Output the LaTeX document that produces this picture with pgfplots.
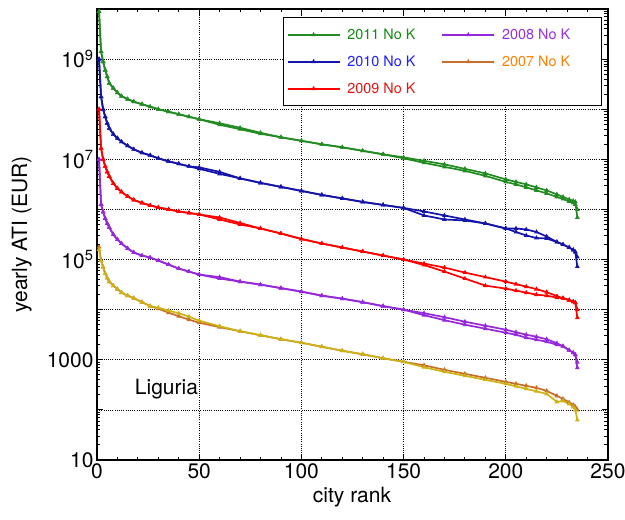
\documentclass[border=0pt]{standalone}
\usepackage{pgfplots}
\usepackage{pgfplotstable}
\pgfplotsset{compat=1.18}
\usepackage{fontspec}
\setmainfont{TeX Gyre Heros}

\definecolor{cgreen}{RGB}{34,139,34}
\definecolor{cblue}{RGB}{20,20,170}
\definecolor{cred}{RGB}{255,0,0}
\definecolor{cpurple}{RGB}{150,40,220}
\definecolor{corange}{RGB}{200,110,40}
\definecolor{cyellow}{RGB}{205,180,20}
\definecolor{tgreen}{RGB}{20,140,20}
\definecolor{tblue}{RGB}{30,30,255}
\definecolor{tred}{RGB}{230,20,20}
\definecolor{tpurple}{RGB}{150,50,230}
\definecolor{torange}{RGB}{255,128,0}

% 2011
\pgfplotstableread{
r a b
1 8.913e9 8.913e9
2 1.413e9 1.413e9
3 8.913e8 8.913e8
4 6.026e8 6.026e8
5 4.467e8 4.467e8
6 3.311e8 3.311e8
8 2.630e8 2.630e8
10 2.138e8 2.138e8
12 1.820e8 1.820e8
15 1.585e8 1.585e8
18 1.413e8 1.413e8
22 1.259e8 1.259e8
26 1.122e8 1.122e8
30 1.0e8 1.0e8
35 8.913e7 8.913e7
40 7.943e7 7.943e7
45 7.079e7 7.079e7
50 6.310e7 6.310e7
60 4.898e7 5.248e7
70 3.981e7 4.266e7
80 3.236e7 3.388e7
90 2.754e7 2.754e7
100 2.344e7 2.344e7
110 1.995e7 1.995e7
120 1.738e7 1.738e7
130 1.479e7 1.479e7
140 1.259e7 1.259e7
150 1.096e7 1.047e7
160 9.333e6 8.511e6
170 7.943e6 7.079e6
180 6.457e6 5.888e6
190 5.248e6 4.677e6
200 3.981e6 3.548e6
205 3.548e6 3.162e6
210 3.162e6 2.754e6
215 2.754e6 2.399e6
220 2.399e6 2.089e6
225 1.995e6 1.778e6
228 1.778e6 1.622e6
231 1.585e6 1.445e6
233 1.479e6 1.349e6
234 1.413e6 1.259e6
235 6.918e5 1.0e6
}\tabG

% 2010
\pgfplotstableread{
r a b
1 1.0e9 1.0e9
2 1.778e8 1.778e8
3 1.0e8 1.0e8
4 7.079e7 7.079e7
5 5.248e7 5.248e7
6 4.169e7 4.169e7
8 3.162e7 3.162e7
10 2.630e7 2.630e7
12 2.239e7 2.239e7
15 1.862e7 1.862e7
18 1.585e7 1.585e7
22 1.349e7 1.349e7
26 1.202e7 1.202e7
30 1.047e7 1.047e7
35 9.120e6 9.120e6
40 8.128e6 8.128e6
45 7.244e6 7.244e6
50 6.457e6 6.918e6
60 5.129e6 5.623e6
70 4.169e6 4.169e6
80 3.388e6 3.388e6
90 2.818e6 2.818e6
100 2.344e6 2.344e6
110 1.950e6 1.950e6
120 1.660e6 1.660e6
130 1.413e6 1.413e6
140 1.230e6 1.230e6
150 1.072e6 1.072e6
160 9.120e5 7.586e5
170 7.586e5 6.310e5
180 6.310e5 6.026e5
190 5.248e5 5.248e5
200 4.169e5 4.169e5
205 3.548e5 4.169e5
210 3.020e5 3.981e5
215 2.692e5 3.548e5
220 2.630e5 2.884e5
225 2.239e5 2.239e5
228 1.995e5 1.995e5
231 1.738e5 1.738e5
233 1.549e5 1.549e5
234 1.413e5 1.413e5
235 7.244e4 1.122e5
}\tabB

% 2009
\pgfplotstableread{
r a b
1 1.0e8 1.0e8
2 1.660e7 1.660e7
3 1.0e7 1.0e7
4 7.244e6 7.244e6
5 5.623e6 5.623e6
6 4.571e6 4.571e6
8 3.311e6 3.311e6
10 2.630e6 2.630e6
12 2.239e6 2.239e6
15 1.820e6 1.820e6
18 1.549e6 1.549e6
22 1.349e6 1.349e6
26 1.202e6 1.202e6
30 1.096e6 1.096e6
35 1.0e6 1.0e6
40 9.120e5 9.120e5
45 8.511e5 8.511e5
50 7.943e5 7.943e5
60 6.310e5 6.918e5
70 5.012e5 5.370e5
80 4.169e5 4.169e5
90 3.311e5 3.311e5
100 2.570e5 2.570e5
110 2.089e5 2.089e5
120 1.738e5 1.738e5
130 1.445e5 1.445e5
140 1.202e5 1.202e5
150 1.0e5 1.0e5
160 8.318e4 7.762e4
170 6.918e4 5.754e4
180 5.495e4 4.169e4
190 4.467e4 3.020e4
200 3.631e4 2.630e4
205 3.236e4 2.399e4
210 2.884e4 2.188e4
215 2.570e4 1.995e4
220 2.239e4 1.905e4
225 1.862e4 1.738e4
228 1.698e4 1.698e4
231 1.549e4 1.549e4
233 1.445e4 1.445e4
234 1.380e4 1.380e4
235 6.918e3 1.0e4
}\tabR

% 2008
\pgfplotstableread{
r a b
1 1.0e7 1.0e7
2 1.259e6 1.259e6
3 8.913e5 8.913e5
4 6.607e5 6.607e5
5 5.248e5 5.248e5
6 4.365e5 4.365e5
8 3.162e5 3.162e5
10 2.512e5 2.512e5
12 2.089e5 2.089e5
15 1.660e5 1.660e5
18 1.380e5 1.380e5
22 1.202e5 1.202e5
26 1.096e5 1.096e5
30 9.550e4 9.550e4
35 7.943e4 7.943e4
40 6.607e4 6.607e4
45 5.754e4 5.754e4
50 5.012e4 5.012e4
60 4.169e4 4.467e4
70 3.631e4 3.631e4
80 3.162e4 3.162e4
90 2.692e4 2.692e4
100 2.291e4 2.291e4
110 1.905e4 1.905e4
120 1.660e4 1.660e4
130 1.413e4 1.413e4
140 1.175e4 1.175e4
150 1.0e4 1.0e4
160 8.511e3 7.762e3
170 7.079e3 6.166e3
180 5.754e3 5.012e3
190 4.786e3 4.169e3
200 3.981e3 3.467e3
205 3.548e3 3.162e3
210 3.162e3 2.754e3
215 2.884e3 2.512e3
220 2.570e3 2.291e3
225 2.138e3 1.995e3
228 1.862e3 1.862e3
231 1.549e3 1.549e3
233 1.380e3 1.380e3
234 1.259e3 1.259e3
235 6.918e2 8.913e2
}\tabP

% 2007
\pgfplotstableread{
r a b
1 1.778e5 1.585e5
2 9.550e4 9.550e4
3 7.079e4 7.079e4
4 5.248e4 5.248e4
5 4.266e4 4.266e4
6 3.631e4 3.631e4
8 3.020e4 3.020e4
10 2.570e4 2.570e4
12 2.188e4 2.188e4
15 1.905e4 1.905e4
18 1.698e4 1.698e4
22 1.413e4 1.413e4
26 1.175e4 1.175e4
30 1.047e4 1.096e4
35 8.710e3 9.550e3
40 7.413e3 8.511e3
45 6.310e3 7.244e3
50 5.495e3 6.026e3
60 4.467e3 4.677e3
70 3.715e3 3.715e3
80 3.090e3 3.090e3
90 2.570e3 2.570e3
100 2.188e3 2.188e3
110 1.820e3 1.820e3
120 1.514e3 1.514e3
130 1.288e3 1.288e3
140 1.072e3 1.072e3
150 9.120e2 9.120e2
160 7.762e2 7.079e2
170 6.310e2 5.754e2
180 5.248e2 4.786e2
190 4.365e2 3.981e2
200 3.631e2 3.311e2
205 3.311e2 2.951e2
210 3.020e2 2.630e2
215 2.754e2 2.344e2
220 2.399e2 2.089e2
225 1.905e2 1.445e2
228 1.660e2 1.514e2
231 1.413e2 1.318e2
233 1.259e2 1.148e2
234 1.148e2 1.0e2
235 1.0e2 63.10
}\tabO

\begin{document}
\begin{tikzpicture}
\begin{axis}[
  at={(0pt,0pt)}, anchor=south west,
  scale only axis,
  width=511pt, height=451pt,
  xmin=0, xmax=250,
  ymode=log, ymin=10, ymax=1e10,
  xtick={0,50,100,150,200,250},
  minor x tick num=4,
  ytick={1e1,1e2,1e3,1e4,1e5,1e6,1e7,1e8,1e9,1e10},
  yticklabels={10,,1000,,10\textsuperscript{5},,10\textsuperscript{7},,10\textsuperscript{9},},
  minor ytick={20,30,40,50,60,70,80,90,200,300,400,500,600,700,800,900,2000,3000,4000,5000,6000,7000,8000,9000,2e4,3e4,4e4,5e4,6e4,7e4,8e4,9e4,2e5,3e5,4e5,5e5,6e5,7e5,8e5,9e5,2e6,3e6,4e6,5e6,6e6,7e6,8e6,9e6,2e7,3e7,4e7,5e7,6e7,7e7,8e7,9e7,2e8,3e8,4e8,5e8,6e8,7e8,8e8,9e8,2e9,3e9,4e9,5e9,6e9,7e9,8e9,9e9},
  /pgf/number format/assume math mode=true,
  tick label style={font=\fontsize{21}{24}\selectfont},
  label style={font=\fontsize{21}{24}\selectfont},
  xlabel={city rank},
  ylabel={yearly ATI (EUR)},
  xlabel style={at={(axis description cs:0.499,-0.082)}, anchor=center},
  ylabel style={at={(axis description cs:-0.147,0.5)}, anchor=center, rotate=0},
  xmajorgrids, ymajorgrids,
  major grid style={black, line width=0.7pt, dash pattern=on 1pt off 1.2pt},
  axis line style={line width=1.3pt},
  major tick length=6pt, minor tick length=3.5pt,
  every tick/.style={black, line width=0.9pt},
  legend columns=2,
  legend cell align=left,
  legend style={at={(rel axis cs:0.988,0.982)}, anchor=north east,
    draw=black, line width=1.3pt, fill=white,
    font=\fontsize{14.4}{17}\selectfont,
    inner xsep=3pt, inner ysep=9pt, row sep=11pt,
    /tikz/every odd column/.append style={column sep=5pt},
    /tikz/every even column/.append style={column sep=24pt}},
  legend image code/.code={\draw[mark repeat=2,mark phase=2,#1] plot coordinates {(0pt,0pt) (26pt,0pt) (52pt,0pt)};},
  every axis plot/.append style={line width=1.7pt, mark=triangle*, mark size=1.1pt},
]
% legend order row-wise: 2011, 2008, 2010, 2007, 2009
\addplot[color=cgreen] table[x=r, y=a] {\tabG};
\addlegendentry{\textcolor{tgreen}{2011 No K}}
\addplot[color=cpurple] table[x=r, y=a] {\tabP};
\addlegendentry{\textcolor{tpurple}{2008 No K}\rule{26pt}{0pt}}
\addplot[color=cblue] table[x=r, y=a] {\tabB};
\addlegendentry{\textcolor{tblue}{2010 No K}}
\addplot[color=corange] table[x=r, y=a] {\tabO};
\addlegendentry{\textcolor{torange}{2007 No K}}
\addplot[color=cred] table[x=r, y=a] {\tabR};
\addlegendentry{\textcolor{tred}{2009 No K}}
\addplot[color=cgreen, forget plot] table[x=r, y=b] {\tabG};
\addplot[color=cblue, forget plot] table[x=r, y=b] {\tabB};
\addplot[color=cred, forget plot] table[x=r, y=b] {\tabR};
\addplot[color=cpurple, forget plot] table[x=r, y=b] {\tabP};
\addplot[color=cyellow, forget plot] table[x=r, y=b] {\tabO};
\node[font=\fontsize{21}{24}\selectfont] at (axis cs:34,263) {Liguria};
\end{axis}
\pgfresetboundingbox
\path[use as bounding box] (-97pt,-60pt) rectangle (528pt,460pt);
\end{tikzpicture}
\end{document}
